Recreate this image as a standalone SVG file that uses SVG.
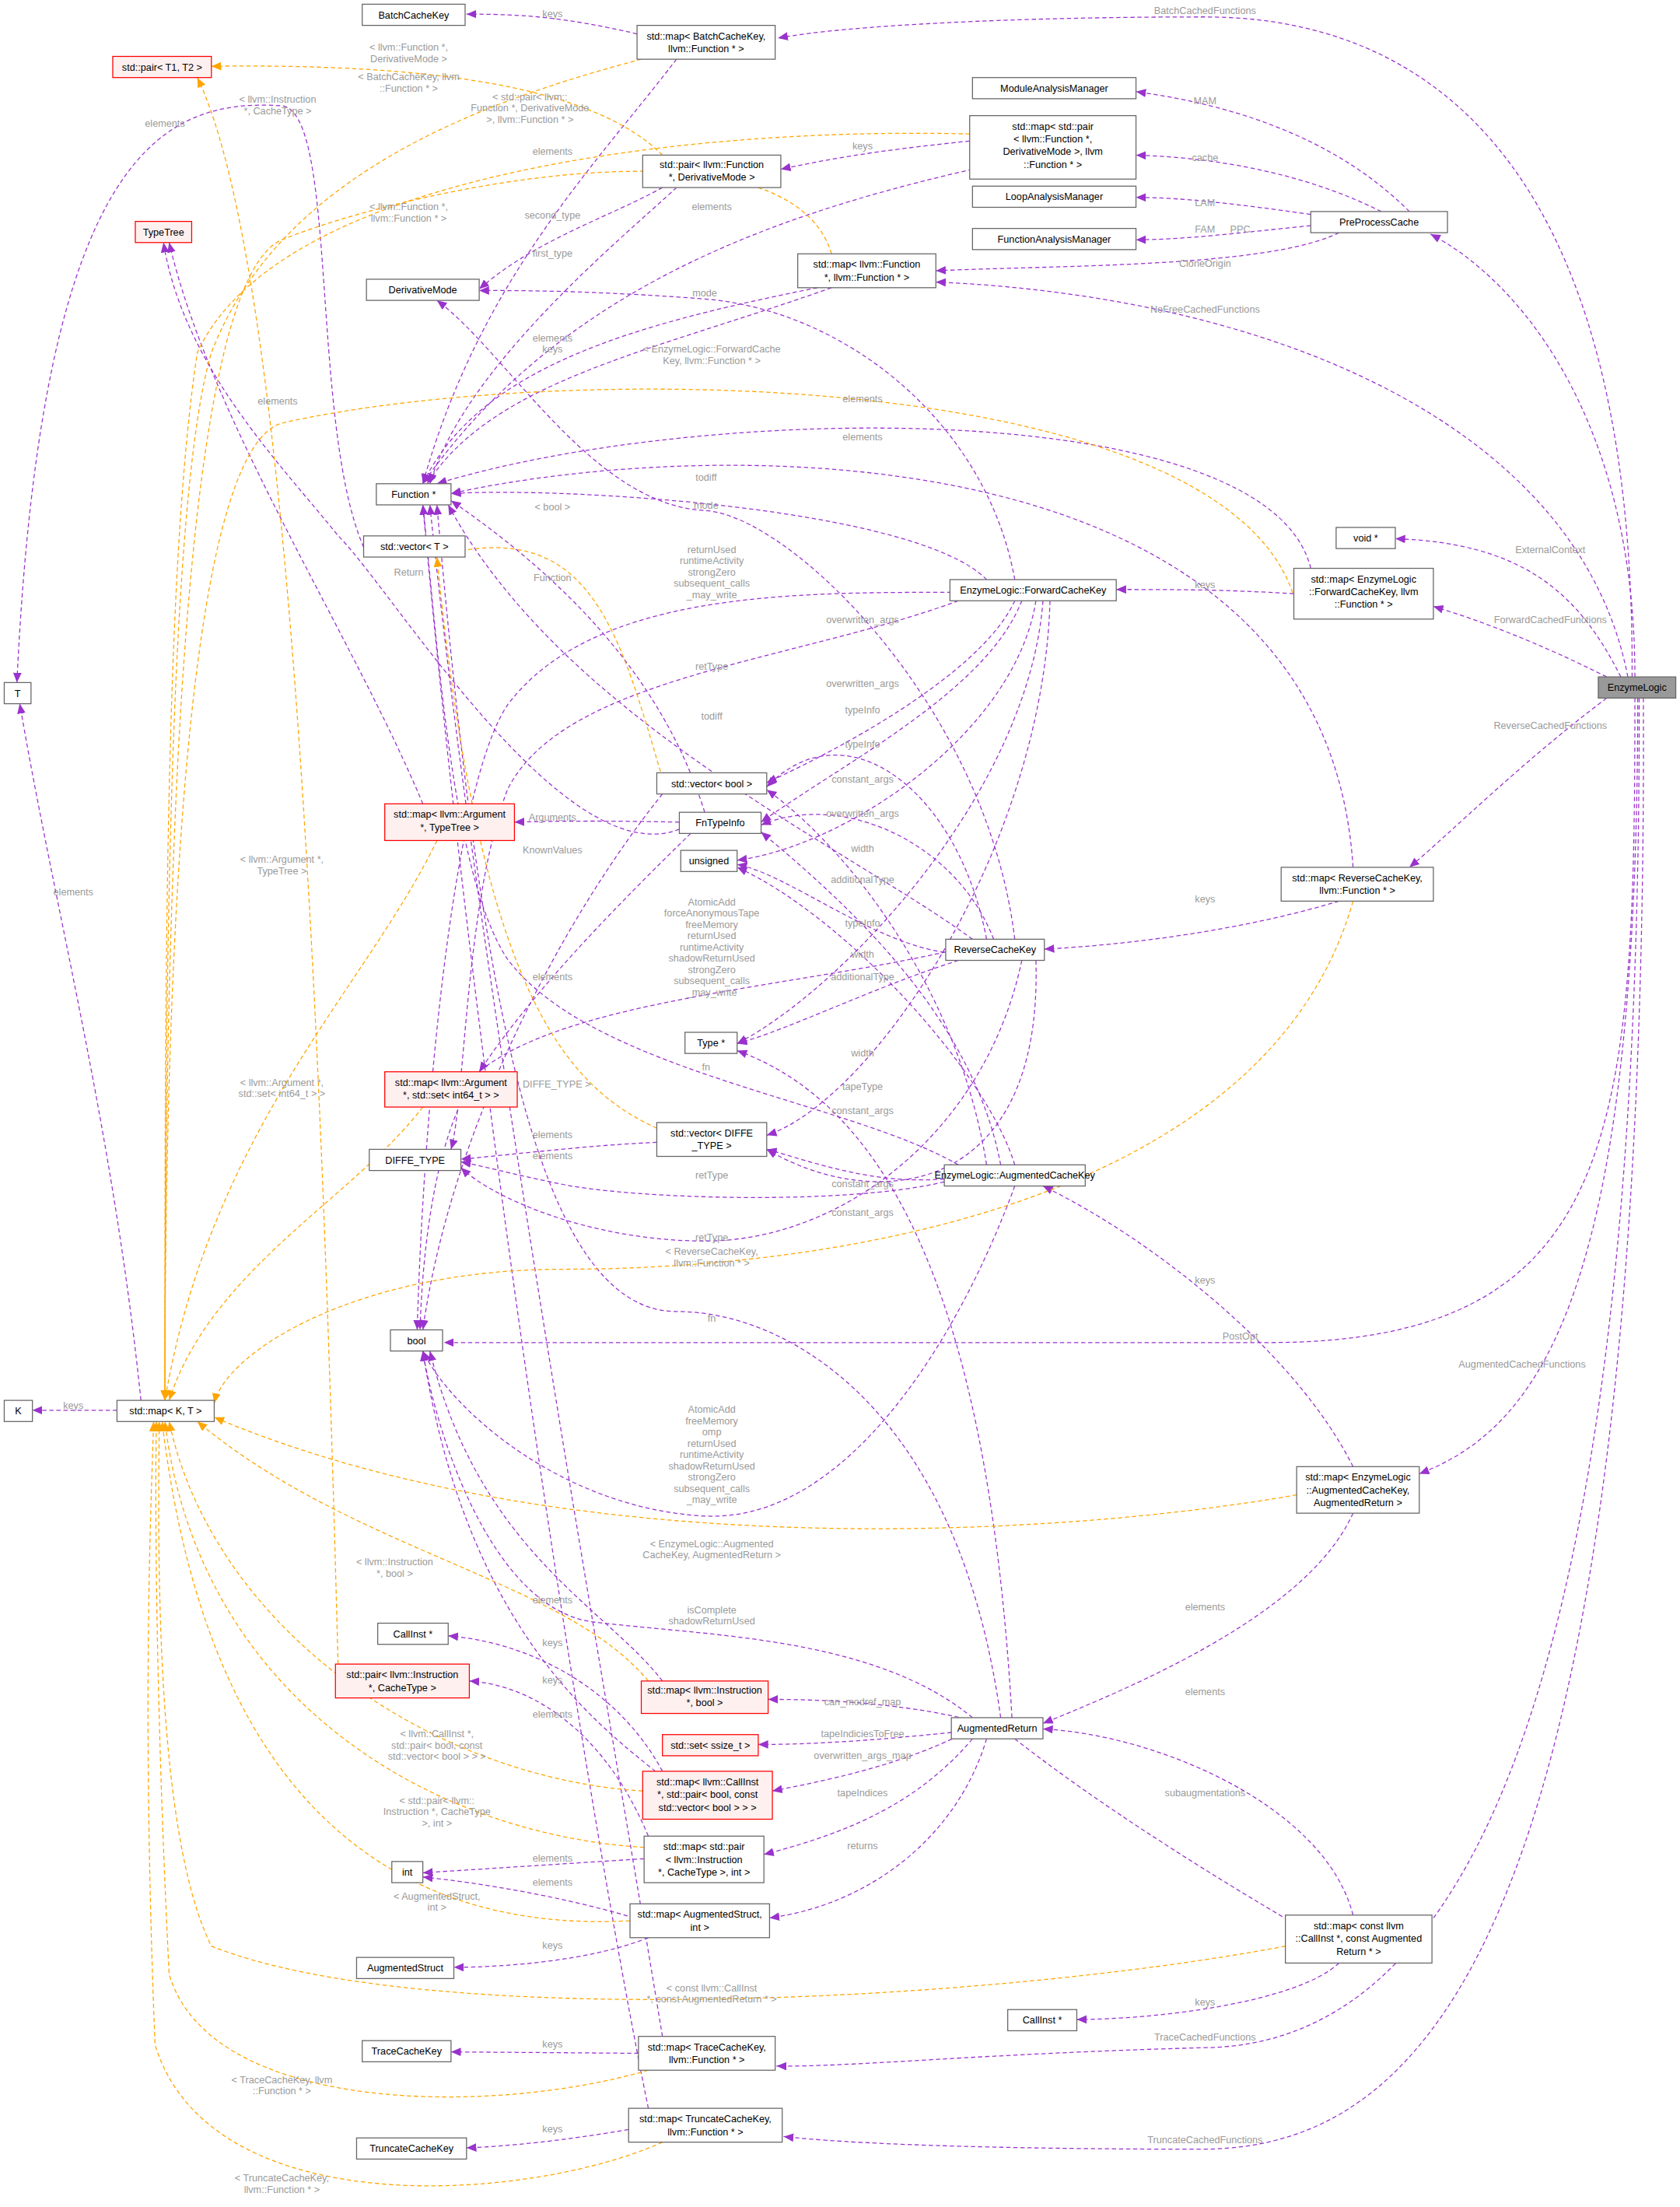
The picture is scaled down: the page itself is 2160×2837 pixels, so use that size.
<svg xmlns="http://www.w3.org/2000/svg" width="2160" height="2837" viewBox="0 0 2160 2837">
<style>
.n rect{fill:#fff;stroke:#666;stroke-width:0.7}
.r rect{fill:#fff0f0;stroke:#f00;stroke-width:0.7}
.g rect{fill:#999;stroke:#666;stroke-width:0.7}
text{font-family:"Liberation Sans",Arial,sans-serif;font-size:7px}
.n text,.r text,.g text{fill:#000;text-anchor:middle}
.l{fill:#9a9a9a;text-anchor:middle}
.p{fill:none;stroke:#9a32cd;stroke-width:0.7;stroke-dasharray:3,2;marker-end:url(#ap)}
.o{fill:none;stroke:#ffa500;stroke-width:0.7;stroke-dasharray:3,2;marker-end:url(#ao)}
</style>
<defs>
<marker id="ap" markerUnits="userSpaceOnUse" markerWidth="8" markerHeight="8" refX="7" refY="3" orient="auto"><path d="M0,0L7,3L0,6z" fill="#9a32cd"/></marker>
<marker id="ao" markerUnits="userSpaceOnUse" markerWidth="8" markerHeight="8" refX="7" refY="3" orient="auto"><path d="M0,0L7,3L0,6z" fill="#ffa500"/></marker>
</defs>
<rect width="2160" height="2837" fill="#fff"/>
<g transform="scale(1.8121,1.8128)">
<g id="edges">
<path class="p" d="M1158,480C1160,100 1000,12 855,12C720,12 600,18 552,27"/>
<path class="p" d="M1160,480C1160,300 1080,200 1015,166"/>
<path class="p" d="M1155,480C1120,300 900,210 664,200"/>
<path class="p" d="M1150,480C1120,420 1080,385 990,382"/>
<path class="p" d="M1140,480C1090,455 1050,440 1017,430"/>
<path class="p" d="M1140,495C1080,540 1030,590 1000,615"/>
<path class="p" d="M1160,495C1160,800 1150,952 900,952L315,952"/>
<path class="p" d="M1162,495C1162,900 1100,1010 1007,1045"/>
<path class="p" d="M1163,495C1165,1300 1000,1450 855,1452C700,1456 600,1466 551,1465"/>
<path class="p" d="M1166,495C1170,1400 1000,1522 855,1524C700,1524 600,1520 556,1515"/>
<path class="p" d="M452,24C400,12 370,10 331,10"/>
<path class="p" d="M480,42C420,120 340,200 300,343"/>
<path class="p" d="M1000,150C950,100 880,75 806,65"/>
<path class="p" d="M980,150C930,125 870,112 806,110"/>
<path class="p" d="M930,152C880,145 840,140 806,140"/>
<path class="p" d="M930,160C880,165 840,170 806,170"/>
<path class="p" d="M950,165C900,190 750,188 664,192"/>
<path class="p" d="M688,100C640,105 600,110 554,120"/>
<path class="p" d="M690,120C560,150 400,200 300,343"/>
<path class="p" d="M470,133C430,155 380,170 340,205"/>
<path class="p" d="M480,133C440,170 330,260 305,343"/>
<path class="p" d="M580,204C450,230 340,260 300,343"/>
<path class="p" d="M590,204C460,250 350,270 303,343"/>
<path class="p" d="M918,421C870,418 830,418 792,418"/>
<path class="p" d="M930,403C900,280 500,285 310,343"/>
<path class="p" d="M720,411C700,300 600,220 500,212C420,206 370,206 340,206"/>
<path class="p" d="M700,411C650,360 400,345 320,350"/>
<path class="p" d="M675,420C560,420 420,420 360,500C320,560 300,800 296,943"/>
<path class="p" d="M720,426C700,470 620,520 544,555"/>
<path class="p" d="M725,426C700,490 600,540 540,583"/>
<path class="p" d="M735,426C720,520 600,600 523,610"/>
<path class="p" d="M740,426C730,560 600,700 523,740"/>
<path class="p" d="M745,426C740,600 620,780 544,805"/>
<path class="p" d="M680,426C560,470 400,480 360,560C330,640 330,780 320,815"/>
<path class="p" d="M950,639C880,660 800,670 741,673"/>
<path class="p" d="M960,615C940,300 500,310 320,350"/>
<path class="p" d="M720,666C700,500 560,365 500,362C420,358 360,250 310,213"/>
<path class="p" d="M690,666C600,600 400,510 318,358"/>
<path class="p" d="M671,675C560,700 400,710 340,760C310,800 300,880 298,943"/>
<path class="p" d="M700,666C680,560 600,500 544,558"/>
<path class="p" d="M705,666C680,600 600,560 540,585"/>
<path class="p" d="M675,676C620,670 560,620 523,613"/>
<path class="p" d="M680,681C620,700 560,730 523,740"/>
<path class="p" d="M735,681C740,850 620,860 544,815"/>
<path class="p" d="M725,681C700,800 600,880 500,880C420,880 350,850 327,828"/>
<path class="p" d="M680,826C600,780 420,760 360,680C320,620 310,450 300,358"/>
<path class="p" d="M720,841C680,950 600,1080 500,1075C400,1070 320,1000 300,958"/>
<path class="p" d="M700,826C680,700 600,600 544,560"/>
<path class="p" d="M710,826C690,720 600,640 540,590"/>
<path class="p" d="M720,826C700,760 600,650 523,615"/>
<path class="p" d="M670,836C620,840 580,825 544,815"/>
<path class="p" d="M670,838C600,855 450,850 400,840C360,832 340,826 327,824"/>
<path class="p" d="M960,1040C920,960 820,880 740,841"/>
<path class="p" d="M960,1073C930,1140 820,1190 740,1222"/>
<path class="p" d="M500,576C470,480 400,410 320,355"/>
<path class="p" d="M482,583C440,582 400,582 365,583"/>
<path class="p" d="M482,588C400,620 280,420 240,380C200,330 130,260 116,172"/>
<path class="p" d="M490,591C440,640 380,700 340,760"/>
<path class="p" d="M300,570C250,450 150,300 120,172"/>
<path class="p" d="M258,388C220,300 240,80 200,75C120,70 30,100 12,484"/>
<path class="p" d="M466,810C420,812 370,818 327,822"/>
<path class="p" d="M470,563C400,650 320,800 300,943"/>
<path class="p" d="M83,1000L23,1000"/>
<path class="p" d="M100,993C80,800 40,650 14,499"/>
<path class="p" d="M690,1220C650,1210 600,1205 545,1205"/>
<path class="p" d="M680,1228C640,1232 590,1237 538,1237"/>
<path class="p" d="M680,1231C640,1250 600,1260 548,1270"/>
<path class="p" d="M690,1233C650,1280 600,1300 542,1315"/>
<path class="p" d="M700,1233C680,1300 620,1350 546,1360"/>
<path class="p" d="M720,1233C780,1280 860,1330 920,1365"/>
<path class="p" d="M710,1218C680,1000 560,930 480,930C380,930 340,700 310,358"/>
<path class="p" d="M690,1218C620,1160 500,1160 420,1150C350,1140 310,1020 300,958"/>
<path class="p" d="M718,1218C700,900 620,780 523,745"/>
<path class="p" d="M960,1358C940,1280 820,1230 740,1226"/>
<path class="p" d="M950,1392C920,1420 820,1432 764,1432"/>
<path class="p" d="M470,1192C430,1140 340,1100 305,958"/>
<path class="p" d="M470,1256C440,1200 380,1165 318,1160"/>
<path class="p" d="M465,1256C420,1220 330,1150 300,958"/>
<path class="p" d="M460,1302C430,1230 380,1195 333,1192"/>
<path class="p" d="M457,1318L300,1328"/>
<path class="p" d="M450,1360C400,1345 340,1335 300,1331"/>
<path class="p" d="M460,1374C420,1390 360,1395 322,1395"/>
<path class="p" d="M453,1456L320,1455"/>
<path class="p" d="M470,1444C430,1200 340,700 305,358"/>
<path class="p" d="M446,1510C400,1518 360,1522 331,1523"/>
<path class="p" d="M460,1495C420,1300 340,800 300,358"/>
<path class="o" d="M455,42C350,70 200,120 150,250C120,350 117,700 117,993"/>
<path class="o" d="M470,110C420,60 300,45 150,47"/>
<path class="o" d="M688,95C500,90 200,120 140,250C117,400 117,700 117,993"/>
<path class="o" d="M590,180C560,80 300,130 200,170C130,200 117,600 117,993"/>
<path class="o" d="M920,430C880,260 400,255 200,300C130,320 117,700 117,993"/>
<path class="o" d="M470,552C440,450 420,370 320,392"/>
<path class="o" d="M310,596C260,700 150,800 117,993"/>
<path class="o" d="M300,785C250,850 150,900 120,993"/>
<path class="o" d="M466,800C400,770 340,700 310,395"/>
<path class="o" d="M960,639C900,850 600,900 400,900C250,900 160,960 152,995"/>
<path class="o" d="M920,1060C750,1090 400,1110 152,1005"/>
<path class="o" d="M240,1185C230,800 210,200 140,55"/>
<path class="o" d="M460,1192C400,1120 250,1100 140,1008"/>
<path class="o" d="M456,1270C300,1260 150,1150 120,1008"/>
<path class="o" d="M457,1310C300,1300 140,1200 117,1008"/>
<path class="o" d="M447,1362C300,1370 150,1300 115,1008"/>
<path class="o" d="M912,1380C700,1420 300,1440 150,1380C110,1300 112,1100 113,1008"/>
<path class="o" d="M460,1468C350,1500 150,1500 120,1400C110,1200 110,1050 111,1008"/>
<path class="o" d="M470,1519C380,1560 150,1580 110,1450C100,1200 108,1050 109,1008"/>
</g>
<g id="labels">
<text class="l" x="855" y="10">BatchCachedFunctions</text>
<text class="l" x="880" y="165">PPC</text>
<text class="l" x="855" y="222">NoFreeCachedFunctions</text>
<text class="l" x="1100" y="392">ExternalContext</text>
<text class="l" x="1100" y="442">ForwardCachedFunctions</text>
<text class="l" x="1100" y="517">ReverseCachedFunctions</text>
<text class="l" x="880" y="950">PostOpt</text>
<text class="l" x="1080" y="970">AugmentedCachedFunctions</text>
<text class="l" x="855" y="1447">TraceCachedFunctions</text>
<text class="l" x="855" y="1520">TruncateCachedFunctions</text>
<text class="l" x="392" y="12">keys</text>
<text class="l" x="392" y="110">elements</text>
<text class="l" x="855" y="74">MAM</text>
<text class="l" x="855" y="114">cache</text>
<text class="l" x="855" y="146">LAM</text>
<text class="l" x="855" y="165">FAM</text>
<text class="l" x="855" y="189">CloneOrigin</text>
<text class="l" x="612" y="106">keys</text>
<text class="l" x="505" y="149">elements</text>
<text class="l" x="392" y="155">second_type</text>
<text class="l" x="392" y="182">first_type</text>
<text class="l" x="392" y="242">elements</text>
<text class="l" x="392" y="250">keys</text>
<text class="l" x="855" y="417">keys</text>
<text class="l" x="612" y="285">elements</text>
<text class="l" x="500" y="210">mode</text>
<text class="l" x="612" y="312">elements</text>
<text class="l" x="501" y="361">mode</text>
<text class="l" x="501" y="341">todiff</text>
<text class="l" x="505" y="392">returnUsed</text>
<text class="l" x="505" y="400">runtimeActivity</text>
<text class="l" x="505" y="408">strongZero</text>
<text class="l" x="505" y="416">subsequent_calls</text>
<text class="l" x="505" y="424">_may_write</text>
<text class="l" x="505" y="475">retType</text>
<text class="l" x="505" y="510">todiff</text>
<text class="l" x="612" y="442">overwritten_args</text>
<text class="l" x="612" y="487">overwritten_args</text>
<text class="l" x="612" y="506">typeInfo</text>
<text class="l" x="612" y="530">typeInfo</text>
<text class="l" x="612" y="555">constant_args</text>
<text class="l" x="612" y="579">overwritten_args</text>
<text class="l" x="612" y="604">width</text>
<text class="l" x="612" y="626">additionalType</text>
<text class="l" x="612" y="657">typeInfo</text>
<text class="l" x="612" y="679">width</text>
<text class="l" x="612" y="695">additionalType</text>
<text class="l" x="612" y="749">width</text>
<text class="l" x="612" y="773">tapeType</text>
<text class="l" x="612" y="790">constant_args</text>
<text class="l" x="612" y="842">constant_args</text>
<text class="l" x="612" y="862">constant_args</text>
<text class="l" x="505" y="642">AtomicAdd</text>
<text class="l" x="505" y="650">forceAnonymousTape</text>
<text class="l" x="505" y="658">freeMemory</text>
<text class="l" x="505" y="666">returnUsed</text>
<text class="l" x="505" y="674">runtimeActivity</text>
<text class="l" x="505" y="682">shadowReturnUsed</text>
<text class="l" x="505" y="690">strongZero</text>
<text class="l" x="505" y="698">subsequent_calls</text>
<text class="l" x="505" y="706">_may_write</text>
<text class="l" x="501" y="759">fn</text>
<text class="l" x="505" y="836">retType</text>
<text class="l" x="505" y="880">retType</text>
<text class="l" x="505" y="937">fn</text>
<text class="l" x="505" y="1002">AtomicAdd</text>
<text class="l" x="505" y="1010">freeMemory</text>
<text class="l" x="505" y="1018">omp</text>
<text class="l" x="505" y="1026">returnUsed</text>
<text class="l" x="505" y="1034">runtimeActivity</text>
<text class="l" x="505" y="1042">shadowReturnUsed</text>
<text class="l" x="505" y="1050">strongZero</text>
<text class="l" x="505" y="1058">subsequent_calls</text>
<text class="l" x="505" y="1066">_may_write</text>
<text class="l" x="505" y="1144">isComplete</text>
<text class="l" x="505" y="1152">shadowReturnUsed</text>
<text class="l" x="855" y="640">keys</text>
<text class="l" x="855" y="910">keys</text>
<text class="l" x="855" y="1142">elements</text>
<text class="l" x="392" y="412">Function</text>
<text class="l" x="392" y="582">Arguments</text>
<text class="l" x="290" y="408">Return</text>
<text class="l" x="392" y="605">KnownValues</text>
<text class="l" x="197" y="287">elements</text>
<text class="l" x="117" y="90">elements</text>
<text class="l" x="392" y="807">elements</text>
<text class="l" x="392" y="822">elements</text>
<text class="l" x="392" y="695">elements</text>
<text class="l" x="52" y="999">keys</text>
<text class="l" x="52" y="635">elements</text>
<text class="l" x="612" y="1209">can_modref_map</text>
<text class="l" x="612" y="1232">tapeIndiciesToFree</text>
<text class="l" x="612" y="1247">overwritten_args_map</text>
<text class="l" x="612" y="1274">tapeIndices</text>
<text class="l" x="612" y="1311">returns</text>
<text class="l" x="855" y="1274">subaugmentations</text>
<text class="l" x="855" y="1202">elements</text>
<text class="l" x="855" y="1422">keys</text>
<text class="l" x="392" y="1137">elements</text>
<text class="l" x="392" y="1167">keys</text>
<text class="l" x="392" y="1194">keys</text>
<text class="l" x="392" y="1218">elements</text>
<text class="l" x="392" y="1320">elements</text>
<text class="l" x="392" y="1337">elements</text>
<text class="l" x="392" y="1382">keys</text>
<text class="l" x="392" y="1452">keys</text>
<text class="l" x="392" y="1512">keys</text>
<text class="l" x="290" y="36">&lt; llvm::Function *,</text>
<text class="l" x="290" y="44">DerivativeMode &gt;</text>
<text class="l" x="290" y="57">&lt; BatchCacheKey, llvm</text>
<text class="l" x="290" y="65">::Function * &gt;</text>
<text class="l" x="197" y="73">&lt; llvm::Instruction</text>
<text class="l" x="197" y="81">*, CacheType &gt;</text>
<text class="l" x="376" y="71">&lt; std::pair&lt; llvm::</text>
<text class="l" x="376" y="79">Function *, DerivativeMode</text>
<text class="l" x="376" y="87">&gt;, llvm::Function * &gt;</text>
<text class="l" x="290" y="149">&lt; llvm::Function *,</text>
<text class="l" x="290" y="157">llvm::Function * &gt;</text>
<text class="l" x="505" y="250">&lt; EnzymeLogic::ForwardCache</text>
<text class="l" x="505" y="258">Key, llvm::Function * &gt;</text>
<text class="l" x="392" y="362">&lt; bool &gt;</text>
<text class="l" x="200" y="612">&lt; llvm::Argument *,</text>
<text class="l" x="200" y="620">TypeTree &gt;</text>
<text class="l" x="200" y="770">&lt; llvm::Argument *,</text>
<text class="l" x="200" y="778">std::set&lt; int64_t &gt; &gt;</text>
<text class="l" x="392" y="771">&lt; DIFFE_TYPE &gt;</text>
<text class="l" x="505" y="890">&lt; ReverseCacheKey,</text>
<text class="l" x="505" y="898">llvm::Function * &gt;</text>
<text class="l" x="505" y="1097">&lt; EnzymeLogic::Augmented</text>
<text class="l" x="505" y="1105">CacheKey, AugmentedReturn &gt;</text>
<text class="l" x="280" y="1110">&lt; llvm::Instruction</text>
<text class="l" x="280" y="1118">*, bool &gt;</text>
<text class="l" x="310" y="1232">&lt; llvm::CallInst *,</text>
<text class="l" x="310" y="1240">std::pair&lt; bool, const</text>
<text class="l" x="310" y="1248">std::vector&lt; bool &gt; &gt; &gt;</text>
<text class="l" x="310" y="1279">&lt; std::pair&lt; llvm::</text>
<text class="l" x="310" y="1287">Instruction *, CacheType</text>
<text class="l" x="310" y="1295">&gt;, int &gt;</text>
<text class="l" x="310" y="1347">&lt; AugmentedStruct,</text>
<text class="l" x="310" y="1355">int &gt;</text>
<text class="l" x="505" y="1412">&lt; const llvm::CallInst</text>
<text class="l" x="505" y="1420">*, const AugmentedReturn * &gt;</text>
<text class="l" x="200" y="1477">&lt; TraceCacheKey, llvm</text>
<text class="l" x="200" y="1485">::Function * &gt;</text>
<text class="l" x="200" y="1547">&lt; TruncateCacheKey,</text>
<text class="l" x="200" y="1555">llvm::Function * &gt;</text>
</g>
<g id="BatchCacheKey" class="n"><rect x="257" y="3" width="73" height="15"/><text x="293.5" y="13">BatchCacheKey</text></g>
<g id="mapBatch" class="n"><rect x="452" y="18" width="98" height="24"/><text x="501" y="28">std::map&lt; BatchCacheKey,</text><text x="501" y="37">llvm::Function * &gt;</text></g>
<g id="pairT1T2" class="r"><rect x="80" y="40" width="70" height="15"/><text x="115" y="50">std::pair&lt; T1, T2 &gt;</text></g>
<g id="MAM" class="n"><rect x="690" y="55" width="116" height="15"/><text x="748" y="65">ModuleAnalysisManager</text></g>
<g id="mapPair" class="n"><rect x="688" y="82" width="118" height="45"/><text x="747" y="92">std::map&lt; std::pair</text><text x="747" y="101">&lt; llvm::Function *,</text><text x="747" y="110"> DerivativeMode &gt;, llvm</text><text x="747" y="119">::Function * &gt;</text></g>
<g id="pairFDM" class="n"><rect x="456" y="110" width="98" height="23"/><text x="505" y="119">std::pair&lt; llvm::Function</text><text x="505" y="128">*, DerivativeMode &gt;</text></g>
<g id="LAM" class="n"><rect x="690" y="132" width="116" height="15"/><text x="748" y="142">LoopAnalysisManager</text></g>
<g id="PreProcessCache" class="n"><rect x="930" y="150" width="97" height="15"/><text x="978.5" y="160">PreProcessCache</text></g>
<g id="TypeTree" class="r"><rect x="96" y="157" width="40" height="15"/><text x="116" y="167">TypeTree</text></g>
<g id="FAM" class="n"><rect x="690" y="162" width="116" height="15"/><text x="748" y="172">FunctionAnalysisManager</text></g>
<g id="mapFF" class="n"><rect x="566" y="180" width="98" height="24"/><text x="615" y="190">std::map&lt; llvm::Function</text><text x="615" y="199">*, llvm::Function * &gt;</text></g>
<g id="DerivativeMode" class="n"><rect x="260" y="198" width="80" height="15"/><text x="300" y="208">DerivativeMode</text></g>
<g id="Function" class="n"><rect x="267" y="343" width="53" height="15"/><text x="293.5" y="353">Function *</text></g>
<g id="vectorT" class="n"><rect x="258" y="380" width="72" height="15"/><text x="294" y="390">std::vector&lt; T &gt;</text></g>
<g id="voidptr" class="n"><rect x="948" y="374" width="42" height="15"/><text x="969" y="384">void *</text></g>
<g id="mapForward" class="n"><rect x="918" y="403" width="99" height="36"/><text x="967.5" y="413">std::map&lt; EnzymeLogic</text><text x="967.5" y="422">::ForwardCacheKey, llvm</text><text x="967.5" y="431">::Function * &gt;</text></g>
<g id="ForwardCacheKey" class="n"><rect x="674" y="411" width="118" height="15"/><text x="733" y="421">EnzymeLogic::ForwardCacheKey</text></g>
<g id="T" class="n"><rect x="3" y="484" width="19" height="15"/><text x="12.5" y="494">T</text></g>
<g id="EnzymeLogic" class="g"><rect x="1134" y="480" width="55" height="15"/><text x="1161.5" y="490">EnzymeLogic</text></g>
<g id="vectorBool" class="n"><rect x="466" y="548" width="78" height="15"/><text x="505" y="558">std::vector&lt; bool &gt;</text></g>
<g id="mapArgTT" class="r"><rect x="273" y="570" width="92" height="26"/><text x="319" y="580">std::map&lt; llvm::Argument</text><text x="319" y="589">*, TypeTree &gt;</text></g>
<g id="FnTypeInfo" class="n"><rect x="482" y="576" width="58" height="15"/><text x="511" y="586">FnTypeInfo</text></g>
<g id="unsigned" class="n"><rect x="483" y="603" width="40" height="15"/><text x="503" y="613">unsigned</text></g>
<g id="mapReverse" class="n"><rect x="909" y="615" width="108" height="24"/><text x="963" y="625">std::map&lt; ReverseCacheKey,</text><text x="963" y="634">llvm::Function * &gt;</text></g>
<g id="ReverseCacheKey" class="n"><rect x="671" y="666" width="70" height="15"/><text x="706" y="676">ReverseCacheKey</text></g>
<g id="Type" class="n"><rect x="486" y="732" width="37" height="15"/><text x="504.5" y="742">Type *</text></g>
<g id="mapArgSet" class="r"><rect x="273" y="760" width="94" height="25"/><text x="320" y="770">std::map&lt; llvm::Argument</text><text x="320" y="779">*, std::set&lt; int64_t &gt; &gt;</text></g>
<g id="vectorDiffe" class="n"><rect x="466" y="796" width="78" height="24"/><text x="505" y="806">std::vector&lt; DIFFE</text><text x="505" y="815">_TYPE &gt;</text></g>
<g id="DIFFE_TYPE" class="n"><rect x="262" y="815" width="65" height="15"/><text x="294.5" y="825">DIFFE_TYPE</text></g>
<g id="AugmentedCacheKey" class="n"><rect x="670" y="826" width="100" height="15"/><text x="720" y="836">EnzymeLogic::AugmentedCacheKey</text></g>
<g id="bool" class="n"><rect x="277" y="943" width="37" height="15"/><text x="295.5" y="953">bool</text></g>
<g id="K" class="n"><rect x="3" y="993" width="20" height="15"/><text x="13" y="1003">K</text></g>
<g id="mapKT" class="n"><rect x="83" y="993" width="69" height="15"/><text x="117.5" y="1003">std::map&lt; K, T &gt;</text></g>
<g id="mapAug" class="n"><rect x="920" y="1040" width="87" height="33"/><text x="963.5" y="1050">std::map&lt; EnzymeLogic</text><text x="963.5" y="1059">::AugmentedCacheKey,</text><text x="963.5" y="1068">AugmentedReturn &gt;</text></g>
<g id="CallInst1" class="n"><rect x="268" y="1151" width="50" height="15"/><text x="293" y="1161">CallInst *</text></g>
<g id="pairInstCT" class="r"><rect x="238" y="1180" width="95" height="24"/><text x="285.5" y="1190">std::pair&lt; llvm::Instruction</text><text x="285.5" y="1199">*, CacheType &gt;</text></g>
<g id="mapInstBool" class="r"><rect x="455" y="1192" width="90" height="23"/><text x="500" y="1201">std::map&lt; llvm::Instruction</text><text x="500" y="1210">*, bool &gt;</text></g>
<g id="AugmentedReturn" class="n"><rect x="675" y="1218" width="65" height="15"/><text x="707.5" y="1228">AugmentedReturn</text></g>
<g id="setSsize" class="r"><rect x="470" y="1230" width="68" height="15"/><text x="504" y="1240">std::set&lt; ssize_t &gt;</text></g>
<g id="mapCallPair" class="r"><rect x="456" y="1256" width="92" height="34"/><text x="502" y="1266">std::map&lt; llvm::CallInst</text><text x="502" y="1275">*, std::pair&lt; bool, const</text><text x="502" y="1284">std::vector&lt; bool &gt; &gt; &gt;</text></g>
<g id="mapPairInt" class="n"><rect x="457" y="1302" width="85" height="33"/><text x="499.5" y="1312">std::map&lt; std::pair</text><text x="499.5" y="1321">&lt; llvm::Instruction</text><text x="499.5" y="1330">*, CacheType &gt;, int &gt;</text></g>
<g id="int" class="n"><rect x="278" y="1320" width="22" height="15"/><text x="289" y="1330">int</text></g>
<g id="mapAugStruct" class="n"><rect x="447" y="1350" width="99" height="24"/><text x="496.5" y="1360">std::map&lt; AugmentedStruct,</text><text x="496.5" y="1369">int &gt;</text></g>
<g id="AugmentedStruct" class="n"><rect x="253" y="1388" width="69" height="15"/><text x="287.5" y="1398">AugmentedStruct</text></g>
<g id="mapConstCall" class="n"><rect x="912" y="1358" width="104" height="34"/><text x="964" y="1368">std::map&lt; const llvm</text><text x="964" y="1377">::CallInst *, const Augmented</text><text x="964" y="1386">Return * &gt;</text></g>
<g id="CallInst2" class="n"><rect x="715" y="1425" width="49" height="15"/><text x="739.5" y="1435">CallInst *</text></g>
<g id="TraceCacheKey" class="n"><rect x="257" y="1447" width="63" height="15"/><text x="288.5" y="1457">TraceCacheKey</text></g>
<g id="mapTrace" class="n"><rect x="453" y="1444" width="97" height="24"/><text x="501.5" y="1454">std::map&lt; TraceCacheKey,</text><text x="501.5" y="1463">llvm::Function * &gt;</text></g>
<g id="TruncateCacheKey" class="n"><rect x="253" y="1516" width="78" height="15"/><text x="292" y="1526">TruncateCacheKey</text></g>
<g id="mapTruncate" class="n"><rect x="446" y="1495" width="109" height="24"/><text x="500.5" y="1505">std::map&lt; TruncateCacheKey,</text><text x="500.5" y="1514">llvm::Function * &gt;</text></g>
</g>
</svg>
